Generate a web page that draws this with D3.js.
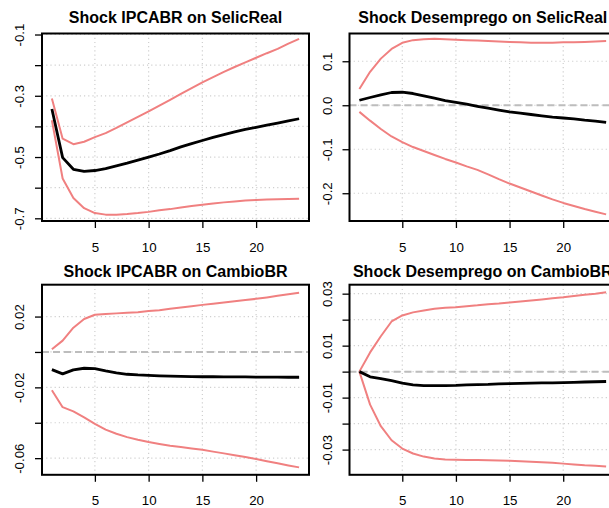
<!DOCTYPE html>
<html>
<head>
<meta charset="utf-8">
<script src="https://cdn.jsdelivr.net/npm/d3@7"></script>
<style>
  html, body { margin: 0; padding: 0; background: #fff; }
  svg { display: block; font-family: "Liberation Sans", Arial, Helvetica, sans-serif; }
</style>
</head>
<body>
<svg id="chart" width="609" height="508"></svg>
<script>
// ---- data ----
const horizons = d3.range(1, 25);
const xTicks = [5, 10, 15, 20];

const titles = [
  "Shock IPCABR on SelicReal",
  "Shock Desemprego on SelicReal",
  "Shock IPCABR on CambioBR",
  "Shock Desemprego on CambioBR"
];

// Panel 1: IPCABR -> SelicReal
const irf1 = [-0.343, -0.502, -0.540, -0.547, -0.544, -0.538, -0.529, -0.520, -0.510, -0.500, -0.490, -0.479,
              -0.467, -0.456, -0.446, -0.436, -0.427, -0.418, -0.410, -0.403, -0.396, -0.389, -0.382, -0.375];
const upper1 = [-0.309, -0.440, -0.458, -0.450, -0.435, -0.422, -0.405, -0.387, -0.369, -0.351, -0.332, -0.313,
                -0.294, -0.275, -0.256, -0.239, -0.222, -0.206, -0.191, -0.176, -0.161, -0.147, -0.130, -0.114];
const lower1 = [-0.380, -0.570, -0.634, -0.667, -0.683, -0.688, -0.688, -0.686, -0.683, -0.679, -0.674, -0.670,
                -0.665, -0.660, -0.656, -0.652, -0.648, -0.645, -0.642, -0.640, -0.639, -0.638, -0.637, -0.636];

// Panel 2: Desemprego -> SelicReal
const irf2 = [0.0114, 0.0176, 0.0237, 0.0290, 0.0296, 0.0267, 0.0214, 0.0160, 0.0107, 0.0068, 0.0023, -0.0023,
              -0.0065, -0.0110, -0.0150, -0.0180, -0.0210, -0.0240, -0.0270, -0.0290, -0.0310, -0.0340, -0.0360, -0.0390];
const upper2 = [0.037, 0.076, 0.106, 0.128, 0.142, 0.148, 0.150, 0.151, 0.150, 0.149, 0.148, 0.147,
                0.146, 0.145, 0.144, 0.143, 0.142, 0.142, 0.142, 0.143, 0.143, 0.144, 0.145, 0.146];
const lower2 = [-0.015, -0.035, -0.054, -0.071, -0.084, -0.095, -0.104, -0.113, -0.122, -0.130, -0.139, -0.147,
                -0.157, -0.168, -0.178, -0.187, -0.196, -0.205, -0.214, -0.222, -0.229, -0.236, -0.242, -0.248];

// Panel 3: IPCABR -> CambioBR
const irf3 = [-0.0100, -0.0124, -0.0101, -0.0092, -0.0094, -0.0107, -0.0118, -0.0126, -0.0130, -0.0132, -0.0135, -0.0137,
              -0.0138, -0.0139, -0.0140, -0.0140, -0.0141, -0.0141, -0.0141, -0.0142, -0.0142, -0.0142, -0.0143, -0.0143];
const upper3 = [0.0015, 0.0064, 0.0137, 0.0186, 0.0210, 0.0214, 0.0218, 0.0222, 0.0225, 0.0231, 0.0236, 0.0244,
                0.0251, 0.0258, 0.0266, 0.0273, 0.0280, 0.0287, 0.0293, 0.0300, 0.0308, 0.0317, 0.0326, 0.0335];
const lower3 = [-0.0216, -0.0312, -0.0336, -0.0370, -0.0406, -0.0439, -0.0462, -0.0481, -0.0496, -0.0509, -0.0520, -0.0530,
                -0.0537, -0.0545, -0.0553, -0.0563, -0.0573, -0.0584, -0.0594, -0.0605, -0.0617, -0.0629, -0.0641, -0.0652];

// Panel 4: Desemprego -> CambioBR
const irf4 = [0.0000, -0.0020, -0.0027, -0.0035, -0.0044, -0.0051, -0.0054, -0.0054, -0.0054, -0.0053, -0.0051, -0.0050,
              -0.0049, -0.0047, -0.0046, -0.0045, -0.0044, -0.0043, -0.0043, -0.0042, -0.0041, -0.0040, -0.0039, -0.0038];
const upper4 = [0.0000, 0.0074, 0.0136, 0.0193, 0.0216, 0.0228, 0.0235, 0.0242, 0.0246, 0.0248, 0.0252, 0.0255,
                0.0259, 0.0262, 0.0266, 0.0270, 0.0274, 0.0278, 0.0282, 0.0286, 0.0291, 0.0296, 0.0300, 0.0305];
const lower4 = [0.0000, -0.0127, -0.0210, -0.0264, -0.0296, -0.0315, -0.0327, -0.0334, -0.0338, -0.0339, -0.0340, -0.0340,
                -0.0341, -0.0342, -0.0343, -0.0345, -0.0347, -0.0349, -0.0351, -0.0354, -0.0357, -0.0360, -0.0362, -0.0365];

// y ticks and which labels are printed
const yTicks1 = [-0.1, -0.2, -0.3, -0.4, -0.5, -0.6, -0.7];
const yLabels1 = ["-0.1", "", "-0.3", "", "-0.5", "", "-0.7"];
const yTicks2 = [0.1, 0.0, -0.1, -0.2];
const yLabels2 = ["0.1", "0.0", "-0.1", "-0.2"];
const yTicks3 = [0.02, 0.0, -0.02, -0.04, -0.06];
const yLabels3 = ["0.02", "", "-0.02", "", "-0.06"];
const yTicks4 = [0.03, 0.02, 0.01, 0.0, -0.01, -0.02, -0.03];
const yLabels4 = ["0.03", "", "0.01", "", "-0.01", "", "-0.03"];

// axis limits
const yLim1 = [-0.7088, -0.0967];
const yLim2 = [-0.2631, 0.1631];
const yLim3 = [-0.0694, 0.0380];
const yLim4 = [-0.0397, 0.03345];
const xLim = [0.08, 24.92];

// ---- layout ----
const panels = [
  { title: titles[0], irf: irf1, up: upper1, lo: lower1, yt: yTicks1, yl: yLabels1, lim: yLim1, zero: false,
    box: { x0: 42, x1: 309, y0: 33.5, y1: 221 }, titleY: 22.5, xLabY: 252 },
  { title: titles[1], irf: irf2, up: upper2, lo: lower2, yt: yTicks2, yl: yLabels2, lim: yLim2, zero: true,
    box: { x0: 349.5, x1: 616, y0: 33.5, y1: 221 }, titleY: 22.5, xLabY: 252 },
  { title: titles[2], irf: irf3, up: upper3, lo: lower3, yt: yTicks3, yl: yLabels3, lim: yLim3, zero: true,
    box: { x0: 42, x1: 309, y0: 284.7, y1: 474.8 }, titleY: 276.5, xLabY: 505 },
  { title: titles[3], irf: irf4, up: upper4, lo: lower4, yt: yTicks4, yl: yLabels4, lim: yLim4, zero: true,
    box: { x0: 349.5, x1: 616, y0: 284.7, y1: 474.8 }, titleY: 276.5, xLabY: 505 }
];

const svg = d3.select("#chart");
svg.append("rect").attr("width", 609).attr("height", 508).attr("fill", "#fff");

const red = "#F08080";
const tickLen = 7;

panels.forEach((p, i) => {
  const b = p.box;
  const x = d3.scaleLinear().domain(xLim).range([b.x0, b.x1]);
  const y = d3.scaleLinear().domain(p.lim).range([b.y1, b.y0]);
  const g = svg.append("g");

  // title
  g.append("text")
    .attr("x", (b.x0 + b.x1) / 2).attr("y", p.titleY)
    .attr("text-anchor", "middle")
    .attr("font-size", 16).attr("font-weight", "bold")
    .attr("fill", "#000")
    .text(p.title);

  // grid
  const grid = g.append("g").attr("stroke", "#cfcfcf").attr("stroke-width", 1.2)
    .attr("stroke-dasharray", "1.2,3");
  xTicks.forEach(t => {
    grid.append("line").attr("x1", x(t)).attr("x2", x(t)).attr("y1", b.y0).attr("y2", b.y1);
  });
  p.yt.forEach(t => {
    grid.append("line").attr("x1", b.x0).attr("x2", b.x1).attr("y1", y(t)).attr("y2", y(t));
  });

  // zero line
  if (p.zero) {
    g.append("line").attr("x1", b.x0).attr("x2", b.x1).attr("y1", y(0)).attr("y2", y(0))
      .attr("stroke", "#bdbdbd").attr("stroke-width", 2).attr("stroke-dasharray", "7,4");
  }

  const line = d3.line().x((d, k) => x(horizons[k])).y(d => y(d));
  const clipId = "clip" + i;
  svg.append("clipPath").attr("id", clipId).append("rect")
    .attr("x", b.x0).attr("y", b.y0).attr("width", b.x1 - b.x0).attr("height", b.y1 - b.y0);
  const lines = g.append("g").attr("clip-path", `url(#${clipId})`).attr("fill", "none");
  [p.up, p.lo].forEach(s => {
    lines.append("path").datum(s).attr("d", line)
      .attr("stroke", red).attr("stroke-width", 2).attr("stroke-linejoin", "round");
  });
  lines.append("path").datum(p.irf).attr("d", line)
    .attr("stroke", "#000").attr("stroke-width", 2.8).attr("stroke-linejoin", "round");

  // box
  g.append("rect").attr("x", b.x0).attr("y", b.y0)
    .attr("width", b.x1 - b.x0).attr("height", b.y1 - b.y0)
    .attr("fill", "none").attr("stroke", "#000").attr("stroke-width", 2);

  // x axis
  const xAxis = d3.axisBottom(x).tickValues(xTicks).tickSize(tickLen).tickPadding(0).tickFormat(d3.format("d"));
  const gx = g.append("g").attr("transform", `translate(0,${b.y1})`).call(xAxis);
  gx.select(".domain").remove();
  gx.selectAll(".tick line").attr("stroke", "#000").attr("stroke-width", 1.3);
  gx.selectAll(".tick text").attr("font-size", 13.3).attr("font-family", "Liberation Sans, Arial, sans-serif")
    .attr("fill", "#000").attr("dy", null).attr("y", p.xLabY - b.y1);

  // y axis
  const yAxis = d3.axisLeft(y).tickValues(p.yt).tickSize(tickLen).tickFormat((d, k) => p.yl[k]);
  const gy = g.append("g").attr("transform", `translate(${b.x0},0)`).call(yAxis);
  gy.select(".domain").remove();
  gy.selectAll(".tick line").attr("stroke", "#000").attr("stroke-width", 1.3);
  gy.selectAll(".tick text").attr("font-size", 13.3).attr("font-family", "Liberation Sans, Arial, sans-serif")
    .attr("fill", "#000").attr("x", null).attr("dy", null)
    .attr("text-anchor", "middle")
    .attr("transform", "translate(-18,0) rotate(-90)");
});
</script>
</body>
</html>
